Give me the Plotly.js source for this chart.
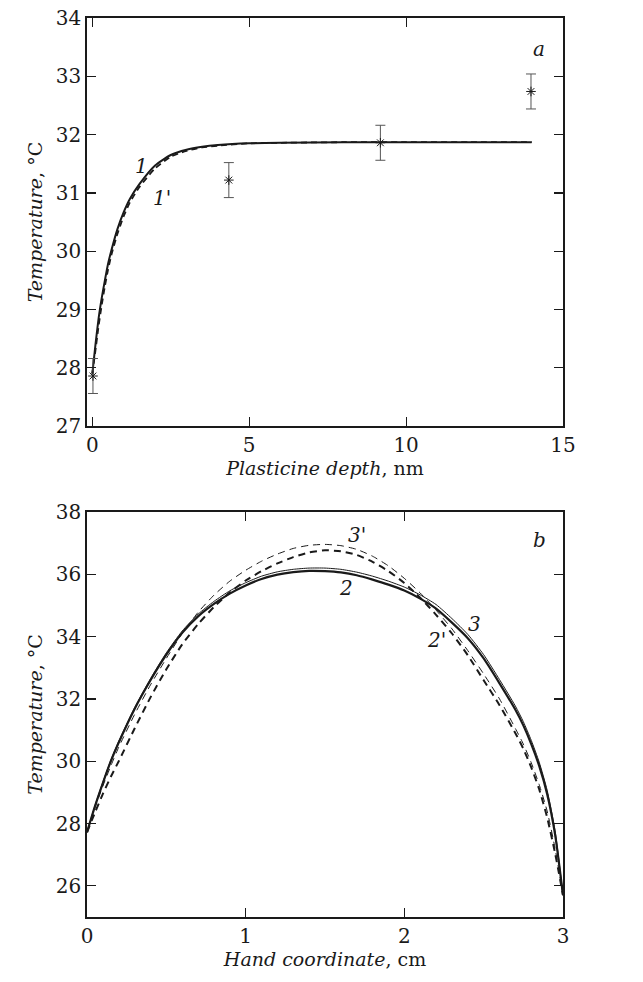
<!DOCTYPE html>
<html>
<head>
<meta charset="utf-8">
<script src="https://cdn.plot.ly/plotly-3.0.1.min.js"></script>
<style>
html,body{margin:0;padding:0;background:#fff;}
#chart{width:643px;height:982px;}
</style>
</head>
<body>
<div id="chart"></div>
<script>
// ---- Panel a: temperature vs plasticine depth ----
const depthX   = [0, 0.1, 0.2, 0.3, 0.4, 0.5, 0.6, 0.8, 1.0, 1.2, 1.5, 2.0, 2.5, 3.0, 3.5, 4.0, 5.0, 6.0, 8.0, 10.0, 12.0, 14.0];
const curve1   = [27.9, 28.4, 28.85, 29.2, 29.5, 29.78, 30.0, 30.38, 30.67, 30.9, 31.15, 31.47, 31.65, 31.74, 31.79, 31.82, 31.85, 31.86, 31.87, 31.87, 31.87, 31.87];
const curve1p  = [27.9, 28.3, 28.72, 29.08, 29.4, 29.68, 29.92, 30.3, 30.6, 30.84, 31.1, 31.42, 31.62, 31.72, 31.78, 31.81, 31.85, 31.86, 31.87, 31.87, 31.87, 31.87];
const measX    = [0.02, 4.35, 9.18, 13.98];
const measY    = [27.86, 31.22, 31.86, 32.74];
const measErr  = [0.3, 0.3, 0.3, 0.3];
const ticksA_X = [0, 5, 10, 15];
const ticksA_Y = [27, 28, 29, 30, 31, 32, 33, 34];

// ---- Panel b: temperature vs hand coordinate ----
const handX    = [0, 0.05, 0.1, 0.15, 0.2, 0.3, 0.4, 0.5, 0.6, 0.7, 0.8, 0.9, 1.0, 1.1, 1.2, 1.3, 1.4, 1.5, 1.6, 1.7, 1.8, 1.9, 2.0, 2.1, 2.2, 2.3, 2.4, 2.5, 2.6, 2.7, 2.75, 2.8, 2.85, 2.9, 2.95, 3.0];
const curve2   = [27.72, 28.55, 29.3, 30.0, 30.6, 31.68, 32.6, 33.42, 34.12, 34.65, 35.05, 35.38, 35.64, 35.85, 35.99, 36.07, 36.11, 36.1, 36.06, 35.97, 35.83, 35.67, 35.48, 35.22, 34.9, 34.45, 33.95, 33.3, 32.5, 31.65, 31.15, 30.55, 29.85, 28.95, 27.65, 25.7];
const curve3   = [27.72, 28.57, 29.33, 30.03, 30.64, 31.72, 32.65, 33.48, 34.18, 34.72, 35.13, 35.47, 35.73, 35.94, 36.08, 36.16, 36.2, 36.2, 36.16, 36.07, 35.94, 35.78, 35.59, 35.34, 35.03, 34.58, 34.07, 33.42, 32.62, 31.77, 31.27, 30.67, 29.97, 29.07, 27.77, 25.7];
const curve2p  = [27.72, 28.35, 28.95, 29.5, 30.0, 31.05, 32.05, 32.95, 33.75, 34.4, 34.95, 35.42, 35.8, 36.1, 36.35, 36.55, 36.7, 36.77, 36.74, 36.62, 36.4, 36.1, 35.72, 35.25, 34.7, 34.1, 33.4, 32.6, 31.8, 30.9, 30.4, 29.8, 29.1, 28.2, 27.05, 25.7];
const curve3p  = [27.72, 28.5, 29.2, 29.85, 30.45, 31.5, 32.45, 33.3, 34.1, 34.78, 35.33, 35.78, 36.13, 36.42, 36.65, 36.83, 36.93, 36.96, 36.92, 36.8, 36.58, 36.27, 35.87, 35.4, 34.85, 34.25, 33.55, 32.8, 32.0, 31.05, 30.55, 29.95, 29.25, 28.4, 27.2, 25.7];
const ticksB_X = [0, 1, 2, 3];
const ticksB_Y = [26, 28, 30, 32, 34, 36, 38];

const FONT = "DejaVu Serif";
const INK = "#1a1a1a";
const SM = {shape: "spline", smoothing: 0.6};

const traces = [
  {x: depthX, y: curve1, mode: "lines", line: Object.assign({color: INK, width: 2}, SM), xaxis: "x", yaxis: "y"},
  {x: depthX, y: curve1p, mode: "lines", line: Object.assign({color: INK, width: 1.8, dash: "6px,4px"}, SM), xaxis: "x", yaxis: "y"},
  {x: measX, y: measY, mode: "markers", xaxis: "x", yaxis: "y",
   marker: {symbol: "asterisk-open", size: 8, color: INK, line: {color: INK, width: 1}},
   error_y: {type: "data", array: measErr, visible: true, color: "#555", thickness: 1, width: 5}},
  {x: handX, y: curve2, mode: "lines", line: Object.assign({color: INK, width: 2.2}, SM), xaxis: "x2", yaxis: "y2"},
  {x: handX, y: curve3, mode: "lines", line: Object.assign({color: INK, width: 1}, SM), xaxis: "x2", yaxis: "y2"},
  {x: handX, y: curve2p, mode: "lines", line: Object.assign({color: INK, width: 2, dash: "7px,5px"}, SM), xaxis: "x2", yaxis: "y2"},
  {x: handX, y: curve3p, mode: "lines", line: Object.assign({color: INK, width: 1, dash: "7px,5px"}, SM), xaxis: "x2", yaxis: "y2"}
];

const axisCommon = {
  showline: true, linecolor: INK, linewidth: 1.8, mirror: "ticks",
  ticks: "inside", ticklen: 9, tickwidth: 1.2, tickcolor: INK,
  showgrid: false, zeroline: false,
  tickfont: {family: FONT, size: 20, color: INK}
};

function lab(text, x, y, xr, yr) {
  return {text: text, x: x, y: y, xref: xr, yref: yr, showarrow: false,
          font: {family: FONT, size: 20, color: INK}};
}

const titleFont = {family: FONT, size: 19, color: INK};

const layout = {
  width: 643, height: 982,
  margin: {l: 87, r: 80, t: 18, b: 65},
  font: {family: FONT, size: 20, color: INK},
  paper_bgcolor: "#fff", plot_bgcolor: "#fff",
  showlegend: false,
  xaxis: Object.assign({}, axisCommon, {
    domain: [0, 1], anchor: "y", range: [-0.17, 15], tickvals: ticksA_X,
    title: {text: "<i>Plasticine depth</i>, nm", font: titleFont, standoff: 2}
  }),
  yaxis: Object.assign({}, axisCommon, {
    domain: [0.546, 1], anchor: "x", range: [27, 34], tickvals: ticksA_Y,
    title: {text: "<i>Temperature</i>, °C", font: titleFont, standoff: 8}
  }),
  xaxis2: Object.assign({}, axisCommon, {
    domain: [0, 1], anchor: "y2", range: [0, 3], tickvals: ticksB_X,
    title: {text: "<i>Hand coordinate</i>, cm", font: titleFont, standoff: 2}
  }),
  yaxis2: Object.assign({}, axisCommon, {
    domain: [0, 0.4505], anchor: "x2", range: [25, 38], tickvals: ticksB_Y,
    title: {text: "<i>Temperature</i>, °C", font: titleFont, standoff: 8}
  }),
  annotations: [
    lab("<i>a</i>", 14.24, 33.47, "x", "y"),
    lab("<i>1</i>", 1.58, 31.46, "x", "y"),
    lab("<i>1</i>'", 2.22, 30.92, "x", "y"),
    lab("<i>b</i>", 2.85, 37.1, "x2", "y2"),
    lab("<i>3</i>'", 1.7, 37.25, "x2", "y2"),
    lab("<i>2</i>", 1.63, 35.56, "x2", "y2"),
    lab("<i>3</i>", 2.44, 34.4, "x2", "y2"),
    lab("<i>2</i>'", 2.2, 33.9, "x2", "y2")
  ]
};

Plotly.newPlot("chart", traces, layout, {staticPlot: true, displayModeBar: false});
</script>
</body>
</html>
